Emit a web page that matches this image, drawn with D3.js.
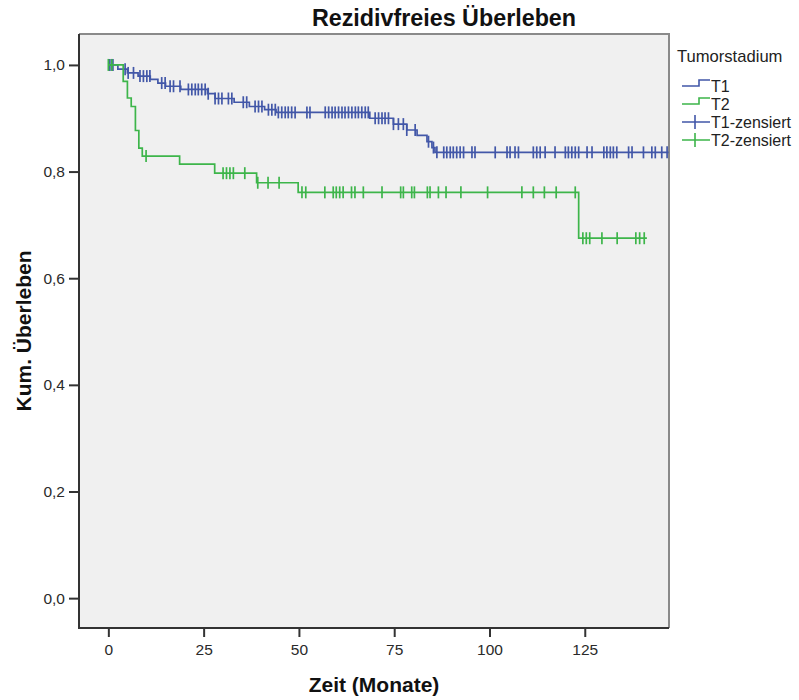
<!DOCTYPE html>
<html><head><meta charset="utf-8">
<script src="https://cdn.jsdelivr.net/npm/d3@7"></script>
<style>body{margin:0;background:#fff}svg{display:block}text{font-family:"Liberation Sans",Arial,sans-serif}</style>
</head><body><svg id="c" width="799" height="700"></svg>
<script>
const xTicks=[0,25,50,75,100,125];
const yTicks=[0,0.2,0.4,0.6,0.8,1.0];
const seriesNames=["T1","T2"];
const t1Steps=[[0,1.0],[2.5,0.992],[5,0.985],[7.8,0.979],[11,0.973],[13,0.966],[15,0.96],[19,0.954],[26,0.946],[28,0.937],[33,0.93],[37,0.922],[41,0.916],[44,0.911],[68.6,0.9],[74.8,0.889],[78.3,0.878],[81,0.868],[83.6,0.856],[84.9,0.845],[85.7,0.836]];
const t1End=147;
const t1Censored=[0.4,1.2,4.4,5.2,6.6,8.3,9.2,10.1,10.9,14,14.9,16.2,17.1,18.8,21,21.9,22.8,23.6,24.5,25.4,26.2,28,28.9,29.8,31.5,32.4,35.4,36.3,38.5,39.4,40.3,42,42.9,43.8,44.6,45.5,46.4,47.2,48.1,49,52.1,52.9,56.9,57.8,58.7,59.5,60.4,61.3,62.1,63,63.9,64.8,65.6,66.5,67.4,68.2,70,70.9,71.8,72.6,73.5,74.8,76.1,77.4,78.3,80.5,84,85.3,86.2,88,88.8,89.7,90.5,91.4,92.3,93.2,95.4,96.2,101.5,104.6,105.4,106.7,107.6,111.5,112.4,113.3,114.6,117.2,119.9,120.7,121.6,122.5,123.4,125.6,126.9,130,130.8,131.7,132.5,133.4,136.5,137.4,140.4,142.6,143.5,145.2,146.6];
const t2Steps=[[0,1.0],[3.9,0.969],[5,0.938],[6,0.922],[7.1,0.877],[8,0.844],[8.9,0.829],[18.7,0.814],[27.9,0.797],[38.9,0.779],[49.8,0.761],[123.4,0.675]];
const t2End=141.3;
const t2Censored=[0,0.9,9.9,30.1,31,31.9,32.8,35.8,39.2,41.9,44.8,50.8,51.8,56.8,59,59.8,60.7,61.6,63.8,64.7,66.9,71.8,76.7,77.4,79.6,80.3,83.7,84.4,86.6,88.6,92.5,99.5,108.5,111.5,114.4,117.5,122.5,124.5,125.4,126.3,129.5,133.5,138.4,139.4,140.6];

const colors={T1:"#4257a8",T2:"#3db54a"};
const svg=d3.select("#c");
const L=79,R=669,T=34,B=628;
const x=d3.scaleLinear().domain([-7.7,147.1]).range([L,R]);
const y=d3.scaleLinear().domain([-0.056,1.058]).range([B,T]);

svg.append("rect").attr("x",L).attr("y",T).attr("width",R-L).attr("height",B-T).attr("fill","#f0f0f0");

// axes
const ax=svg.append("g").attr("transform",`translate(0,${B})`).call(d3.axisBottom(x).tickValues(xTicks).tickSize(9).tickSizeOuter(0).tickFormat(d3.format("d")));
const ay=svg.append("g").attr("transform",`translate(${L},0)`).call(d3.axisLeft(y).tickValues(yTicks).tickSize(10).tickSizeOuter(0).tickFormat(d=>d3.format(".1f")(d).replace(".",",")));
[ax,ay].forEach(g=>{g.select(".domain").remove();g.selectAll("line").attr("stroke","#333").attr("stroke-width",2);g.selectAll("text").attr("font-size",15.5).attr("fill","#2a2a2a").attr("font-family","Liberation Sans, Arial, sans-serif");});
ax.selectAll("text").attr("dy","0.95em");
ay.selectAll("text").attr("dx","-1px");

// frame
svg.append("path").attr("d",`M${L},${T}H${R}V${B}`).attr("fill","none").attr("stroke","#8a8a8a").attr("stroke-width",2);
svg.append("path").attr("d",`M${L},${T}V${B}H${R}`).attr("fill","none").attr("stroke","#333").attr("stroke-width",2);

function survAt(steps,t){let s=steps[0][1];for(const p of steps){if(p[0]<=t)s=p[1];}return s;}
const line=d3.line().x(d=>x(d[0])).y(d=>y(d[1])).curve(d3.curveStepAfter);
function draw(name,steps,end,cens){
  const pts=steps.concat([[end,steps[steps.length-1][1]]]);
  svg.append("path").attr("d",line(pts)).attr("fill","none").attr("stroke",colors[name]).attr("stroke-width",1.7);
  svg.append("g").selectAll("line").data(cens).join("line")
   .attr("x1",d=>x(d)).attr("x2",d=>x(d)).attr("y1",d=>y(survAt(steps,d))-6).attr("y2",d=>y(survAt(steps,d))+6)
   .attr("stroke",colors[name]).attr("stroke-width",1.7);
}
draw("T1",t1Steps,t1End,t1Censored);
draw("T2",t2Steps,t2End,t2Censored);

// titles
svg.append("text").attr("x",444).attr("y",26).attr("text-anchor","middle").attr("font-size",23.3).attr("font-weight","bold").attr("fill","#111").text("Rezidivfreies Überleben");
svg.append("text").attr("x",374).attr("y",692).attr("text-anchor","middle").attr("font-size",21).attr("font-weight","bold").attr("fill","#111").text("Zeit (Monate)");
svg.append("text").attr("transform",`translate(31,${(T+B)/2}) rotate(-90)`).attr("text-anchor","middle").attr("font-size",21).attr("font-weight","bold").attr("fill","#111").text("Kum. Überleben");

// legend
const lg=svg.append("g");
lg.append("text").attr("x",677).attr("y",62).attr("font-size",16.6).attr("fill","#222").text("Tumorstadium");
const items=[{label:"T1",c:colors.T1,cens:false},{label:"T2",c:colors.T2,cens:false},{label:"T1-zensiert",c:colors.T1,cens:true},{label:"T2-zensiert",c:colors.T2,cens:true}];
items.forEach((it,i)=>{
  const yy=86+i*18;
  if(!it.cens){
    lg.append("path").attr("d",`M682,${yy}H699V${yy-6}H710`).attr("fill","none").attr("stroke",it.c).attr("stroke-width",1.6);
  } else {
    lg.append("path").attr("d",`M682,${yy}H710M695,${yy-7}V${yy+7}`).attr("fill","none").attr("stroke",it.c).attr("stroke-width",1.6);
  }
  lg.append("text").attr("x",711).attr("y",yy+6).attr("font-size",16).attr("fill","#222").text(it.label);
});
</script></body></html>
